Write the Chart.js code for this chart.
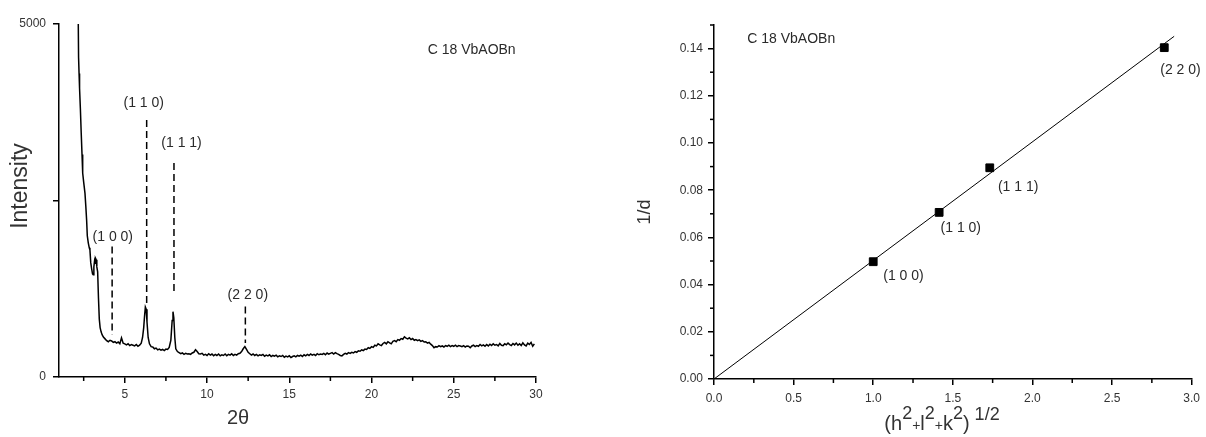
<!DOCTYPE html>
<html lang="en">
<head>
    <meta charset="UTF-8">
    <title>C 18 VbAOBn</title>
    <style>
        body {
            margin: 0;
            background: #ffffff;
            width: 1206px;
            height: 437px;
            overflow: hidden;
            position: relative;
        }
        #xrdChart { position: absolute; left: 0; top: 0; }
        #indexChart { position: absolute; left: 600px; top: 0; }
    </style>
    <script src="https://cdn.jsdelivr.net/npm/chart.js"></script>
</head>
<body>

    <canvas id="xrdChart" width="560" height="437"></canvas>
    <canvas id="indexChart" width="606" height="437"></canvas>

    <script>
        // ---- XRD pattern (left) ----
        const twoTheta = [
            2.15, 2.19, 2.22, 2.25, 2.30, 2.35, 2.40, 2.44, 2.50, 2.58, 2.63, 2.68, 2.72, 2.78, 2.84, 2.88,
            2.93, 2.98, 3.04, 3.08, 3.12, 3.16, 3.19, 3.22, 3.26, 3.30, 3.35, 3.40, 3.45, 3.50, 3.56, 3.62,
            3.70, 3.80, 3.90, 4.00, 4.10, 4.20, 4.30, 4.40, 4.50, 4.60, 4.70, 4.80, 4.90, 5.00, 5.10, 5.20,
            5.30, 5.40, 5.50, 5.60, 5.70, 5.80, 5.90, 6.00, 6.08, 6.15, 6.20, 6.25, 6.30, 6.35, 6.42, 6.50,
            6.60, 6.70, 6.80, 6.90, 7.00, 7.10, 7.20, 7.30, 7.40, 7.50, 7.60, 7.70, 7.80, 7.88, 7.93, 7.98,
            8.04,
            8.1, 8.2, 8.3, 8.4, 8.5, 8.6, 8.7, 8.8, 8.9, 9.0, 9.1, 9.2, 9.3, 9.4, 9.5, 9.6, 9.7, 9.8, 9.9,
            10.0, 10.1, 10.2, 10.3, 10.4, 10.5, 10.6, 10.7, 10.8, 10.9,
            11.0, 11.1, 11.2, 11.3, 11.4, 11.5, 11.6, 11.7, 11.8, 11.9,
            12.0, 12.1, 12.2, 12.3, 12.4, 12.5, 12.6, 12.7, 12.8, 12.9,
            13.0, 13.1, 13.2, 13.3, 13.4, 13.5, 13.6, 13.7, 13.8, 13.9,
            14.0, 14.1, 14.2, 14.3, 14.4, 14.5, 14.6, 14.7, 14.8, 14.9,
            15.0, 15.1, 15.2, 15.3, 15.4, 15.5, 15.6, 15.7, 15.8, 15.9,
            16.0, 16.1, 16.2, 16.3, 16.4, 16.5, 16.6, 16.7, 16.8, 16.9,
            17.0, 17.1, 17.2, 17.3, 17.4, 17.5, 17.6, 17.7, 17.8, 17.9,
            18.0, 18.1, 18.2, 18.3, 18.4, 18.5, 18.6, 18.7, 18.8, 18.9,
            19.0, 19.1, 19.2, 19.3, 19.4, 19.5, 19.6, 19.7, 19.8, 19.9,
            20.0, 20.1, 20.2, 20.3, 20.4, 20.5, 20.6, 20.7, 20.8, 20.9,
            21.0, 21.1, 21.2, 21.3, 21.4, 21.5, 21.6, 21.7, 21.8, 21.9,
            22.0, 22.1, 22.2, 22.3, 22.4, 22.5, 22.6, 22.7, 22.8, 22.9,
            23.0, 23.1, 23.2, 23.3, 23.4, 23.5, 23.6, 23.7, 23.8, 23.9,
            24.0, 24.1, 24.2, 24.3, 24.4, 24.5, 24.6, 24.7, 24.8, 24.9,
            25.0, 25.1, 25.2, 25.3, 25.4, 25.5, 25.6, 25.7, 25.8, 25.9,
            26.0, 26.1, 26.2, 26.3, 26.4, 26.5, 26.6, 26.7, 26.8, 26.9,
            27.0, 27.1, 27.2, 27.3, 27.4, 27.5, 27.6, 27.7, 27.8, 27.9,
            28.0, 28.1, 28.2, 28.3, 28.4, 28.5, 28.6, 28.7, 28.8, 28.9,
            29.0, 29.1, 29.2, 29.3, 29.4, 29.5, 29.6, 29.7, 29.8, 29.9
        ];
        const intensity = [
            5600, 4530, 4300, 4090, 3800, 3460, 3150, 2890, 2760, 2600, 2420, 2220, 2000, 1900, 1830, 1800,
            1620, 1540, 1460, 1450, 1560, 1640, 1610, 1680, 1660, 1560, 1490, 1120, 820, 700, 640, 600,
            565, 540, 515, 500, 520, 510, 490, 500, 480, 495, 470, 555, 480, 470, 455, 470,
            445, 460, 450, 440, 460, 435, 450, 480, 560, 700, 860, 990, 960, 780, 560, 470,
            430, 425, 400, 410, 385, 395, 380, 390, 375, 395, 390, 420, 520, 800, 925, 840,
            560,
            400, 360, 345, 330, 340, 320, 335, 325, 330, 320, 340, 350, 385, 360, 330, 325, 335, 310, 320,
            305, 330, 310, 325, 300, 320, 305, 325, 300, 315,
            305, 325, 300, 320, 310, 330, 305, 320, 310, 330,
            335, 360, 400, 430, 390, 350, 330, 310, 325, 305,
            320, 300, 315, 305, 320, 295, 310, 300, 315, 290,
            305, 295, 310, 285, 300, 290, 305, 280, 295, 285,
            300, 275, 290, 300, 285, 305, 295, 310, 290, 315,
            300, 320, 305, 325, 310, 320, 305, 330, 315, 325,
            320, 335, 315, 340, 325, 335, 345, 325, 345, 330,
            320, 305, 300, 320, 335, 325, 345, 335, 350, 340,
            360, 350, 370, 365, 385, 375, 395, 390, 415, 405,
            430, 420, 450, 440, 470, 455, 445, 475, 490, 470,
            500, 485, 470, 505, 515, 500, 530, 520, 545, 535,
            570, 550, 540, 555, 530, 545, 520, 530, 515, 525,
            505, 515, 495, 500, 480, 490, 465, 445, 415, 430,
            425, 445, 430, 440, 425, 445, 435, 450, 430, 445,
            435, 450, 430, 445, 440, 430, 445, 425, 440, 435,
            415, 440, 450, 430, 445, 435, 460, 440, 455, 435,
            460, 440, 465, 445, 470, 450, 460, 440, 475, 450,
            445, 470, 455, 480, 460, 445, 475, 455, 480, 450,
            470, 445, 485, 455, 440, 480, 460, 490, 435, 470
        ];

        // peak markers: dashed line and label per reflection
        const peakNames = ['(1 0 0)', '(1 1 0)', '(1 1 1)', '(2 2 0)'];
        const peakPos = [4.23, 6.33, 7.99, 12.33];
        const peakLineTop = [1850, 3640, 3030, 1000];
        const peakLineBottom = [600, 1000, 1190, 480];
        const peakLabelX = [4.27, 6.15, 8.45, 12.48];
        const peakLabelY = [1980, 3880, 3310, 1160];

        const leftXTicks = [5, 10, 15, 20, 25, 30];
        const leftXMinor = [2.5, 7.5, 12.5, 17.5, 22.5, 27.5];
        const leftYTicks = [0, 2500, 5000];

        // ---- indexing plot (right) ----
        const hklRoot = [1.0, 1.414, 1.732, 2.828];
        const invD = [0.0497, 0.0706, 0.0895, 0.1404];
        const fitX = [0, 2.89];
        const fitY = [0, 0.1452];
        const hklLabelX = [1.19, 1.55, 1.91, 2.93];
        const hklLabelY = [0.0437, 0.064, 0.0814, 0.1308];

        const rightXTicks = [0, 0.5, 1.0, 1.5, 2.0, 2.5, 3.0];
        const rightXMinor = [0.25, 0.75, 1.25, 1.75, 2.25, 2.75];
        const rightYTicks = [0, 0.02, 0.04, 0.06, 0.08, 0.10, 0.12, 0.14];
        const rightYMinor = [0.01, 0.03, 0.05, 0.07, 0.09, 0.11, 0.13, 0.15];

        const sampleName = 'C 18 VbAOBn';

        Chart.defaults.font.family = "'Liberation Sans', Arial, sans-serif";
        Chart.defaults.color = '#333';

        function axisOpts(min, max, ticks, fmt, size, pad) {
            return {
                type: 'linear',
                min: min,
                max: max,
                afterBuildTicks: s => { s.ticks = ticks.map(v => ({ value: v })); },
                border: { color: '#000', width: 1.5 },
                grid: { drawOnChartArea: false, drawTicks: true, tickLength: 6, color: '#000', lineWidth: 1.5 },
                ticks: { callback: fmt, font: { size: 12 }, color: '#333', padding: pad, maxRotation: 0, autoSkip: false },
                afterFit: s => { if (s.isHorizontal()) s.height = size; else s.width = size; }
            };
        }

        // minor ticks, labels and axis titles
        function extrasPlugin(cfg) {
            return {
                id: 'extras',
                afterDraw(chart) {
                    const ctx = chart.ctx;
                    const xs = chart.scales.x, ys = chart.scales.y;
                    const area = chart.chartArea;
                    ctx.save();
                    ctx.strokeStyle = '#000';
                    ctx.lineWidth = 1.5;
                    cfg.xMinor.forEach(v => {
                        const px = xs.getPixelForValue(v);
                        ctx.beginPath(); ctx.moveTo(px, area.bottom); ctx.lineTo(px, area.bottom + 4); ctx.stroke();
                    });
                    cfg.yMinor.forEach(v => {
                        const py = ys.getPixelForValue(v);
                        ctx.beginPath(); ctx.moveTo(area.left, py); ctx.lineTo(area.left - 4, py); ctx.stroke();
                    });

                    ctx.fillStyle = '#2a2a2a';
                    ctx.textAlign = 'center';
                    ctx.textBaseline = 'middle';
                    ctx.font = "14px 'Liberation Sans', Arial, sans-serif";
                    cfg.labels.forEach((t, i) => {
                        ctx.fillText(t, xs.getPixelForValue(cfg.labelX[i]), ys.getPixelForValue(cfg.labelY[i]));
                    });
                    ctx.fillText(sampleName, xs.getPixelForValue(cfg.nameX), ys.getPixelForValue(cfg.nameY));

                    cfg.titles(ctx);
                    ctx.restore();
                }
            };
        }

        // left chart
        const xrdDatasets = [{
            data: twoTheta.map((t, i) => ({ x: t, y: intensity[i] })),
            borderColor: '#000',
            borderWidth: 1.5,
            pointRadius: 0,
            showLine: true
        }];
        peakPos.forEach((p, i) => {
            xrdDatasets.push({
                data: [{ x: p, y: peakLineTop[i] }, { x: p, y: peakLineBottom[i] }],
                borderColor: '#000',
                borderWidth: 1.5,
                borderDash: [7, 4],
                pointRadius: 0,
                showLine: true
            });
        });

        new Chart(document.getElementById('xrdChart'), {
            type: 'scatter',
            data: { datasets: xrdDatasets },
            options: {
                responsive: false,
                animation: false,
                layout: { padding: { left: 0, top: 24, right: 24, bottom: 0 } },
                plugins: { legend: { display: false }, tooltip: { enabled: false } },
                scales: {
                    x: axisOpts(1, 30, leftXTicks, v => String(v), 60, 4),
                    y: axisOpts(0, 5000, leftYTicks, v => v === 2500 ? '' : String(v), 59, 7)
                }
            },
            plugins: [extrasPlugin({
                xMinor: leftXMinor, yMinor: [],
                labels: peakNames, labelX: peakLabelX, labelY: peakLabelY,
                nameX: 26.09, nameY: 4632,
                titles(ctx) {
                    ctx.fillStyle = '#333';
                    ctx.font = "23px 'Liberation Sans', Arial, sans-serif";
                    ctx.save();
                    ctx.translate(21, 186);
                    ctx.rotate(-Math.PI / 2);
                    ctx.fillText('Intensity', 0, 0);
                    ctx.restore();
                    ctx.font = "20px 'Liberation Sans', Arial, sans-serif";
                    ctx.fillText('2θ', 238, 418);
                }
            })]
        });

        // right chart
        new Chart(document.getElementById('indexChart'), {
            type: 'scatter',
            data: {
                datasets: [{
                    data: hklRoot.map((h, i) => ({ x: h, y: invD[i] })),
                    backgroundColor: '#000',
                    borderColor: '#000',
                    pointStyle: 'rect',
                    pointRadius: 5.5,
                    showLine: false
                }, {
                    data: fitX.map((h, i) => ({ x: h, y: fitY[i] })),
                    borderColor: '#000',
                    borderWidth: 1,
                    pointRadius: 0,
                    showLine: true
                }]
            },
            options: {
                responsive: false,
                animation: false,
                layout: { padding: { left: 0, top: 25, right: 13, bottom: 0 } },
                plugins: { legend: { display: false }, tooltip: { enabled: false } },
                scales: {
                    x: axisOpts(0, 3, rightXTicks, v => v.toFixed(1), 58, 6),
                    y: axisOpts(0, 0.15, rightYTicks, v => v.toFixed(2), 114, 5)
                }
            },
            plugins: [extrasPlugin({
                xMinor: rightXMinor, yMinor: rightYMinor,
                labels: peakNames, labelX: hklLabelX, labelY: hklLabelY,
                nameX: 0.485, nameY: 0.1438,
                titles(ctx) {
                    ctx.fillStyle = '#333';
                    ctx.font = "18px 'Liberation Sans', Arial, sans-serif";
                    ctx.save();
                    ctx.translate(45, 212);
                    ctx.rotate(-Math.PI / 2);
                    ctx.fillText('1/d', 0, 0);
                    ctx.restore();

                    // (h2+l2+k2)1/2 with raised exponents
                    const parts = [
                        ['(h', 20, 0], ['2', 18, -11], ['+', 14, 0], ['l', 20, 0], ['2', 18, -11],
                        ['+', 14, 0], ['k', 20, 0], ['2', 18, -11], [')', 20, 0], [' 1/2', 18, -10]
                    ];
                    ctx.textAlign = 'left';
                    ctx.textBaseline = 'alphabetic';
                    let total = 0;
                    parts.forEach(p => {
                        ctx.font = p[1] + "px 'Liberation Sans', Arial, sans-serif";
                        total += ctx.measureText(p[0]).width;
                    });
                    let x = 342 - total / 2;
                    parts.forEach(p => {
                        ctx.font = p[1] + "px 'Liberation Sans', Arial, sans-serif";
                        ctx.fillText(p[0], x, 430 + p[2]);
                        x += ctx.measureText(p[0]).width;
                    });
                }
            })]
        });
    </script>

</body>
</html>
